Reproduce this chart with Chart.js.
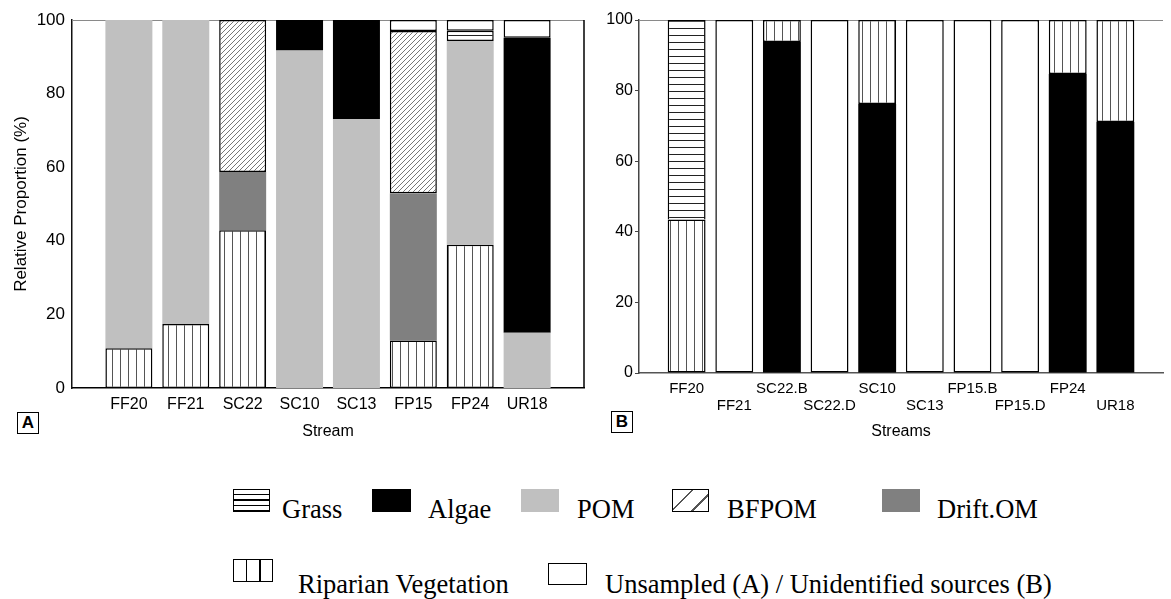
<!DOCTYPE html>
<html><head><meta charset="utf-8">
<script src="https://cdn.jsdelivr.net/npm/chart.js@4.4.0/dist/chart.umd.min.js"></script>
<style>
html,body{margin:0;padding:0;background:#fff;}
body{width:1171px;height:599px;overflow:hidden;position:relative;font-family:"Liberation Sans",Arial,sans-serif;}
#wrapA{position:absolute;left:0;top:0;width:600px;height:450px;}
#wrapB{position:absolute;left:590px;top:0;width:581px;height:450px;}
.panel{position:absolute;box-sizing:border-box;border:1.5px solid #000;font:bold 17px "Liberation Sans",Arial,sans-serif;text-align:center;line-height:19px;color:#000;background:#fff;}
.sym{position:absolute;box-sizing:border-box;}
.lt{position:absolute;font:26.5px "Liberation Serif","Times New Roman",serif;line-height:26.5px;white-space:nowrap;color:#000;}
</style>
</head><body>
<div id="wrapA"><canvas id="chartA" width="600" height="450"></canvas></div>
<div id="wrapB"><canvas id="chartB" width="581" height="450"></canvas></div>
<div class="panel" style="left:17px;top:412px;width:22px;height:22px;">A</div>
<div class="panel" style="left:611px;top:411px;width:22px;height:22px;">B</div>

<div class="sym" style="left:233px;top:489px;width:37px;height:23px;border:1.5px solid #000;background:repeating-linear-gradient(to bottom,#fff 0px,#fff 4px,#000 4px,#000 5.3px);"></div>
<div class="lt" style="left:282px;top:496px;">Grass</div>
<div class="sym" style="left:372px;top:489px;width:39px;height:23px;background:#000;"></div>
<div class="lt" style="left:428px;top:496px;">Algae</div>
<div class="sym" style="left:521px;top:489px;width:38px;height:23px;background:#c0c0c0;"></div>
<div class="lt" style="left:577px;top:496px;">POM</div>
<div class="sym" style="left:672px;top:489px;width:37px;height:23px;border:1.5px solid #000;background:repeating-linear-gradient(135deg,#fff 0px,#fff 13px,#555 13px,#555 14.5px);"></div>
<div class="lt" style="left:727px;top:496px;">BFPOM</div>
<div class="sym" style="left:882px;top:489px;width:38px;height:23px;background:#808080;"></div>
<div class="lt" style="left:937px;top:496px;">Drift.OM</div>
<div class="sym" style="left:233px;top:559px;width:40px;height:23px;border:1.5px solid #000;background:repeating-linear-gradient(to right,#fff 0px,#fff 11.8px,#000 11.8px,#000 13.3px);"></div>
<div class="lt" style="left:298px;top:571px;">Riparian Vegetation</div>
<div class="sym" style="left:548px;top:563px;width:39px;height:22px;border:1.5px solid #000;background:#fff;"></div>
<div class="lt" style="left:605px;top:571px;">Unsampled (A) / Unidentified sources (B)</div>

<script>
// ---------- Data: panel A (Stream) ----------
const streamsA = ['FF20','FF21','SC22','SC10','SC13','FP15','FP24','UR18'];
const riparianA  = [10.8, 17.4, 42.9, 0,    0,    12.9, 38.9, 0];
const pomA       = [89.2, 82.6, 0,    91.7, 73.1, 0,    55.4, 15.0];
const driftA     = [0,    0,    15.8, 0,    0,    40.0, 0,    0];
const bfpomA     = [0,    0,    41.3, 0,    0,    44.1, 0,    0];
const algaeA     = [0,    0,    0,    8.3,  26.9, 0,    0,    80.2];
const grassA     = [0,    0,    0,    0,    0,    0,    2.8,  0];
const unsampledA = [0,    0,    0,    0,    0,    3.0,  2.9,  4.8];

// ---------- Data: panel B (Streams) ----------
const streamsB = ['FF20','FF21','SC22.B','SC22.D','SC10','SC13','FP15.B','FP15.D','FP24','UR18'];
const algaeB    = [0,    0,   93.8, 0,   76.2, 0,   0,   0,   84.7, 71.1];
const riparianB = [43.5, 0,   6.2,  0,   23.8, 0,   0,   0,   15.3, 28.9];
const grassB    = [56.5, 0,   0,    0,   0,    0,   0,   0,   0,    0];
const unidentB  = [0,    100, 0,    100, 0,    100, 100, 100, 0,    0];

const yTicks = [0, 20, 40, 60, 80, 100];

// ---------- helpers ----------
const pad = arr => [null, ...arr.map(v => v ? v : null), null];
const padLabels = arr => ['', ...arr, ''];

function makePattern(kind){
  const c = document.createElement('canvas');
  const x = c.getContext('2d');
  if (kind === 'vert') {
    c.width = 8; c.height = 8;
    x.fillStyle = '#fff'; x.fillRect(0,0,8,8);
    x.fillStyle = '#555'; x.fillRect(0,0,1,8);
  } else if (kind === 'horiz') {
    c.width = 8; c.height = 7;
    x.fillStyle = '#fff'; x.fillRect(0,0,8,7);
    x.fillStyle = '#222'; x.fillRect(0,0,8,1);
  } else if (kind === 'diag') {
    c.width = 5; c.height = 5;
    x.fillStyle = '#fff'; x.fillRect(0,0,5,5);
    x.fillStyle = '#777';
    for (let i = 0; i < 5; i++) x.fillRect(i, 4 - i, 1, 1);
  }
  return x.createPattern(c, 'repeat');
}
const pVert = makePattern('vert');
const pHoriz = makePattern('horiz');
const pDiag = makePattern('diag');

const FONT = 'Liberation Sans';

function ds(label, data, bg, bordered, skipped){
  return {label, data: pad(data), backgroundColor: bg, borderColor: '#000',
          borderWidth: bordered ? 1.5 : 0, borderSkipped: skipped || false, stack: 's'};
}

const framePlugin = (opts) => ({
  id: 'frame',
  beforeDatasetsDraw(chart){
    const {ctx, chartArea: a} = chart;
    ctx.save();
    ctx.strokeStyle = opts.topColor; ctx.lineWidth = 1.2;
    ctx.beginPath(); ctx.moveTo(a.left, a.top + 0.5); ctx.lineTo(a.right, a.top + 0.5); ctx.stroke();
    ctx.restore();
  },
  afterDatasetsDraw(chart){
    if (!opts.right) return;
    const {ctx, chartArea: a} = chart;
    ctx.save();
    ctx.strokeStyle = '#000'; ctx.lineWidth = 1.5;
    ctx.beginPath(); ctx.moveTo(a.right, a.top); ctx.lineTo(a.right, a.bottom); ctx.stroke();
    ctx.restore();
  }
});

// ---------- Chart A ----------
new Chart(document.getElementById('chartA'), {
  type: 'bar',
  data: {
    labels: padLabels(streamsA),
    datasets: [
      ds('Riparian Vegetation', riparianA, pVert, true),
      ds('POM', pomA, '#c0c0c0', false),
      ds('Drift.OM', driftA, '#808080', false),
      ds('BFPOM', bfpomA, pDiag, true),
      ds('Algae', algaeA, '#000', false),
      ds('Grass', grassA, pHoriz, true),
      ds('Unsampled', unsampledA, '#fff', true)
    ]
  },
  options: {
    responsive: false, animation: false,
    layout: {padding: {top: 20, right: 16, left: 0, bottom: 0}},
    plugins: {legend: {display: false}, tooltip: {enabled: false}},
    datasets: {bar: {barPercentage: 0.826, categoryPercentage: 1}},
    scales: {
      x: {
        stacked: true, offset: false,
        grid: {display: false, drawTicks: false},
        border: {display: true, color: '#000', width: 1.5},
        ticks: {padding: 7, color: '#000', autoSkip: false, maxRotation: 0,
                font: {family: FONT, size: 16, lineHeight: 1.2}},
        title: {display: true, text: 'Stream', color: '#000',
                font: {family: FONT, size: 16, lineHeight: 1.2}, padding: {top: 0, bottom: 9}},
        afterFit(s){ s.height = 62; }
      },
      y: {
        stacked: true, min: 0, max: 100,
        afterBuildTicks(s){ s.ticks = yTicks.map(v => ({value: v})); },
        grid: {display: false, drawTicks: false},
        border: {display: true, color: '#111', width: 1.5},
        ticks: {padding: 7, color: '#000', font: {family: FONT, size: 17}},
        title: {display: true, text: 'Relative Proportion (%)', color: '#000',
                font: {family: FONT, size: 17, lineHeight: 1.2}, padding: {top: 11, bottom: 0}},
        afterFit(s){ s.width = 72; }
      }
    }
  },
  plugins: [framePlugin({topColor: '#8a8a8a', right: true})]
});

// ---------- Chart B ----------
new Chart(document.getElementById('chartB'), {
  type: 'bar',
  data: {
    labels: padLabels(streamsB),
    datasets: [
      ds('Algae', algaeB, '#000', false),
      ds('Riparian Vegetation', riparianB, pVert, true),
      ds('Grass', grassB, pHoriz, true, 'start'),
      ds('Unidentified sources', unidentB, '#fff', true)
    ]
  },
  options: {
    responsive: false, animation: false,
    layout: {padding: {top: 20, right: 0, left: 0, bottom: 0}},
    plugins: {legend: {display: false}, tooltip: {enabled: false}},
    datasets: {bar: {barPercentage: 0.795, categoryPercentage: 1}},
    scales: {
      x: {
        stacked: true, offset: false,
        grid: {display: false, drawTicks: false},
        border: {display: true, color: '#555', width: 1.5},
        ticks: {padding: 8, color: '#000', autoSkip: false, maxRotation: 0,
                font: {family: FONT, size: 15, lineHeight: 1.1},
                callback(v, i){ const l = this.getLabelForValue(v); return (i % 2 === 1) ? l : ['', l]; }},
        title: {display: true, text: 'Streams', color: '#000',
                font: {family: FONT, size: 16, lineHeight: 1.2}, padding: {top: 0, bottom: 9}},
        afterFit(s){ s.height = 77; }
      },
      y: {
        stacked: true, min: 0, max: 100,
        afterBuildTicks(s){ s.ticks = yTicks.map(v => ({value: v})); },
        grid: {display: true, drawOnChartArea: false, drawTicks: true, tickLength: 4, color: '#444', lineWidth: 1},
        border: {display: true, color: '#444', width: 1.5},
        ticks: {padding: 2, color: '#000', font: {family: FONT, size: 16}},
        afterFit(s){ s.width = 49; }
      }
    }
  },
  plugins: [framePlugin({topColor: '#8a8a8a', right: false})]
});
</script>
</body></html>
